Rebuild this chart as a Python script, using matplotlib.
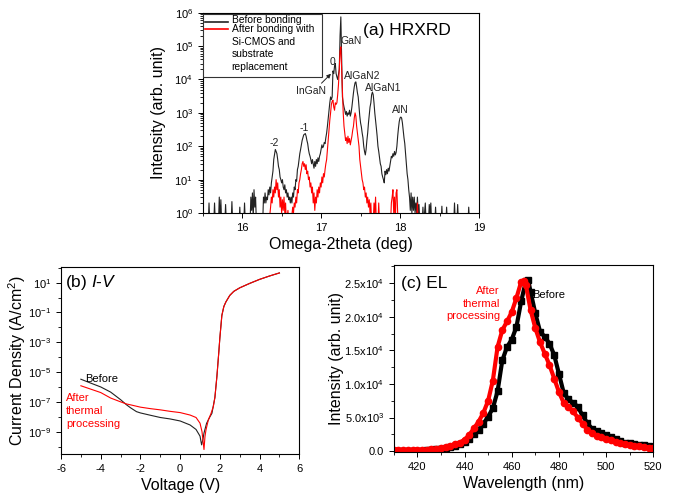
import numpy as np
import matplotlib.pyplot as plt
from matplotlib.patches import Rectangle
from matplotlib.ticker import MultipleLocator, FixedLocator, FixedFormatter, LogLocator, NullFormatter

plt.rcParams['font.family'] = 'Liberation Sans'
plt.rcParams['mathtext.fontset'] = 'custom'
plt.rcParams['mathtext.rm'] = 'Liberation Sans'
plt.rcParams['mathtext.it'] = 'Liberation Sans:italic'
plt.rcParams['axes.linewidth'] = 0.8
plt.rcParams['axes.unicode_minus'] = False

# (a) HRXRD omega-2theta scans
xrd_before_x = [15.57, 15.58, 15.59, 15.64, 15.65, 15.66, 15.70, 15.71, 15.72, 15.73, 15.74,
                15.78, 15.79, 15.80, 15.86, 15.87, 15.88, 15.96, 15.97, 15.98, 16.02, 16.03, 16.04,
                16.10, 16.11, 16.12, 16.13, 16.14, 16.15, 16.16, 16.17, 16.18,
                16.26, 16.27, 16.28, 16.29, 16.30, 16.31, 16.32, 16.33, 16.34, 16.35, 16.36, 16.37,
                16.38, 16.39, 16.40, 16.42, 16.43, 16.44, 16.45, 16.46, 16.47, 16.48, 16.49, 16.50,
                16.51, 16.52, 16.53, 16.54, 16.55, 16.56, 16.57, 16.58, 16.59, 16.60, 16.61, 16.62,
                16.63, 16.64, 16.65, 16.66, 16.67, 16.68, 16.69, 16.70, 16.71, 16.72, 16.73, 16.74,
                16.76, 16.78, 16.80, 16.81, 16.82, 16.83, 16.84, 16.85, 16.86, 16.87, 16.88, 16.89,
                16.90, 16.91, 16.92, 16.93, 16.94, 16.95, 16.96, 16.97, 16.98, 16.99, 17.00, 17.01,
                17.02, 17.03, 17.04, 17.05, 17.06, 17.07, 17.08, 17.09, 17.10, 17.11, 17.12, 17.13,
                17.14, 17.15, 17.16, 17.17, 17.18, 17.19, 17.20, 17.21, 17.22, 17.23, 17.24, 17.25,
                17.26, 17.27, 17.28, 17.29, 17.30, 17.31, 17.32, 17.33, 17.34, 17.35, 17.36, 17.37,
                17.38, 17.39, 17.40, 17.41, 17.42, 17.43, 17.44, 17.45, 17.46, 17.47, 17.48, 17.49,
                17.50, 17.51, 17.52, 17.53, 17.54, 17.55, 17.56, 17.57, 17.58, 17.59, 17.60, 17.61,
                17.62, 17.63, 17.64, 17.65, 17.66, 17.67, 17.68, 17.69, 17.70, 17.71, 17.72, 17.73,
                17.74, 17.75, 17.76, 17.77, 17.78, 17.79, 17.80, 17.81, 17.82, 17.83, 17.84, 17.85,
                17.86, 17.87, 17.88, 17.89, 17.90, 17.91, 17.92, 17.93, 17.94, 17.95, 17.96, 17.97,
                17.98, 17.99, 18.00, 18.01, 18.02, 18.03, 18.04, 18.05, 18.06, 18.07, 18.08, 18.09,
                18.10, 18.11, 18.12, 18.13, 18.14, 18.15, 18.16, 18.17, 18.18, 18.19, 18.20, 18.21,
                18.22, 18.23, 18.24, 18.25, 18.28, 18.29, 18.30, 18.32, 18.33, 18.36, 18.37, 18.38,
                18.39, 18.40, 18.44, 18.45, 18.46, 18.52, 18.53, 18.54, 18.58, 18.59, 18.60, 18.68,
                18.69, 18.70, 18.72, 18.73, 18.74, 18.86, 18.87, 18.88]
xrd_before_y = [0.5, 2, 0.5, 0.5, 2, 0.5, 0.5, 3, 0.5, 2.5, 0.5,
                0.5, 1.8, 0.5, 0.5, 2.2, 0.5, 0.5, 1.5, 0.5, 0.5, 2, 0.5,
                0.5, 3, 1.2, 4, 0.7, 5, 1.5, 3, 0.5,
                0.5, 3, 2, 4, 2, 3, 2.5, 5, 3.5, 6, 4, 8,
                12, 18, 40, 80, 70, 60, 40, 25, 20, 12, 10, 8,
                10, 6, 5, 7, 4, 5, 3, 4, 2.5, 3, 2, 3,
                2, 4, 3, 6, 5, 10, 9, 20, 25, 40, 60, 80,
                150, 220, 240, 200, 150, 120, 80, 60, 50, 40, 30, 40,
                30, 22, 35, 25, 40, 30, 45, 35, 50, 60, 80, 110,
                90, 100, 130, 120, 180, 250, 400, 700, 1200, 2000, 3000, 2500,
                3000, 18000, 15000, 25000, 30000, 15000, 12000, 10000, 14000, 20000, 2e5, 7.5e5,
                5e4, 3000, 2000, 1500, 1200, 900, 1100, 800, 1000, 900, 1200, 800,
                1000, 1500, 2500, 4000, 6000, 8000, 8500, 6000, 4000, 3000, 1500, 800,
                500, 380, 250, 180, 100, 70, 55, 80, 150, 250, 500, 900,
                1500, 2000, 3500, 4200, 3500, 2000, 1000, 600, 350, 200, 100, 70,
                45, 30, 25, 15, 12, 10, 8, 18, 14, 20, 15, 22,
                18, 25, 35, 50, 45, 60, 50, 70, 55, 65, 100, 200,
                350, 550, 700, 750, 700, 500, 300, 180, 120, 60, 30, 15,
                10, 5, 3, 1.2, 4, 1, 3, 1.2, 3, 1, 2, 1,
                3, 1, 1.8, 0.5, 0.5, 1.5, 0.5, 2, 0.5, 0.5, 1.8, 1,
                2, 0.5, 0.5, 1.5, 0.5, 0.5, 1.6, 0.5, 0.5, 1.5, 0.5, 0.5,
                2, 0.5, 0.5, 1.8, 0.5, 0.5, 1.5, 0.5]

xrd_after_x = [16.34, 16.36, 16.37, 16.38, 16.39, 16.40, 16.41, 16.42, 16.43, 16.44, 16.45, 16.46,
               16.47, 16.48, 16.49, 16.50, 16.51, 16.52, 16.53, 16.54, 16.55, 16.56, 16.58, 16.59,
               16.62, 16.64, 16.65, 16.66, 16.67, 16.68, 16.69, 16.70, 16.71, 16.72, 16.73, 16.74,
               16.75, 16.76, 16.77, 16.78, 16.79, 16.80, 16.81, 16.82, 16.83, 16.84, 16.85, 16.86,
               16.87, 16.88, 16.89, 16.90, 16.91, 16.92, 16.93, 16.94, 16.95, 16.96, 16.97, 16.98,
               16.99, 17.00, 17.01, 17.02, 17.03, 17.04, 17.05, 17.06, 17.07, 17.08, 17.09, 17.10,
               17.11, 17.12, 17.13, 17.14, 17.15, 17.16, 17.17, 17.18, 17.19, 17.20, 17.21, 17.22,
               17.23, 17.24, 17.25, 17.26, 17.27, 17.28, 17.29, 17.30, 17.31, 17.32, 17.33, 17.34,
               17.35, 17.36, 17.37, 17.38, 17.39, 17.40, 17.41, 17.42, 17.43, 17.44, 17.45, 17.46,
               17.47, 17.48, 17.49, 17.50, 17.51, 17.52, 17.53, 17.54, 17.55, 17.56, 17.57, 17.58,
               17.59, 17.60, 17.61, 17.62, 17.63, 17.64, 17.66, 17.67, 17.68, 17.69, 17.70, 17.72,
               17.73, 17.74, 17.88, 17.89, 17.90, 17.91, 17.92, 17.93, 17.94, 17.95, 17.96, 17.97,
               17.98, 18.21, 18.22, 18.23]
xrd_after_y = [0.5, 1.5, 3, 2, 5, 3, 6, 4, 10, 5, 8, 3,
               5, 1.5, 3, 1, 2.5, 1.2, 3, 1, 2, 0.5, 1.2, 0.5,
               0.5, 1.5, 1, 2, 1.5, 3, 2, 5, 4, 8, 10, 15,
               20, 30, 35, 25, 30, 20, 28, 15, 18, 10, 12, 6,
               8, 4, 6, 2, 4, 1.2, 3, 2, 5, 3, 6, 4,
               8, 6, 12, 8, 15, 12, 20, 30, 40, 80, 150, 300,
               600, 1000, 1800, 2200, 2400, 1500, 1200, 2000, 1800, 2000, 3500, 7000,
               2e4, 7e4, 9.5e4, 2e4, 5000, 1000, 400, 250, 150, 180, 120, 200,
               130, 170, 110, 150, 200, 300, 400, 700, 1000, 800, 400, 250,
               150, 100, 40, 25, 15, 10, 8, 5, 6, 3, 4, 2,
               3, 1.5, 2.5, 1, 2, 0.5, 0.5, 2, 1, 3, 0.5, 0.5,
               2, 0.5, 0.5, 2, 3, 5, 1, 3, 0.5, 4, 5, 1,
               0.5, 0.5, 2, 0.5]

# (b) I-V curves
iv_before_v = [-5, -4.5, -4, -3.5, -3, -2.7, -2.5, -2.2, -2, -1.5, -1, -0.5, 0, 0.5, 0.8, 1.0,
               1.08, 1.15, 1.2, 1.33, 1.5, 1.6, 1.75, 1.85, 1.95, 2.0, 2.1, 2.2, 2.3, 2.5, 2.7,
               3.0, 3.5, 4.0, 4.5, 5.0]
iv_before_j = [3.3e-6, 1.8e-6, 1.0e-6, 4.5e-7, 1.4e-7, 6.3e-8, 4.0e-8, 2.2e-8, 1.8e-8, 1.26e-8,
               8.9e-9, 7.1e-9, 5.2e-9, 2.8e-9, 1.4e-9, 5.0e-10, 1.3e-10, 3.2e-10, 8e-10, 3.6e-9,
               1.0e-8, 1.7e-8, 2.0e-7, 5.0e-6, 2.5e-4, 2.0e-3, 6.3e-2, 0.25, 0.5, 1.4, 2.6,
               4.5, 8.9, 16.6, 28, 45]
iv_after_v = [-5, -4.5, -4, -3.5, -3, -2.7, -2.5, -2, -1.5, -1, -0.5, 0, 0.5, 0.8, 1.0, 1.1,
              1.2, 1.25, 1.3, 1.42, 1.55, 1.67, 1.75, 1.85, 1.95, 2.0, 2.1, 2.2, 2.3, 2.5, 2.7,
              3.0, 3.5, 4.0, 4.5, 5.0]
iv_after_j = [1.2e-6, 7.1e-7, 4.2e-7, 1.8e-7, 1.0e-7, 7.2e-8, 6.3e-8, 4.4e-8, 3.5e-8, 2.9e-8,
              2.3e-8, 1.9e-8, 1.3e-8, 8.9e-9, 3.7e-9, 1.0e-9, 6.3e-11, 4.7e-10, 1.3e-9, 6.2e-9,
              1.6e-8, 4.8e-8, 2.0e-7, 5.0e-6, 2.5e-4, 2.0e-3, 6.3e-2, 0.25, 0.5, 1.4, 2.6,
              4.5, 8.9, 16.6, 28, 45]

# (c) EL spectra
el_before_wl = [410, 412, 414, 416, 418, 420, 422, 424, 426, 428, 430, 432, 434, 436, 438, 440,
                442, 444, 446, 448, 450, 452, 454, 456, 458, 460, 462, 464, 466, 467, 468, 470,
                472, 474, 476, 478, 480, 482, 484, 486, 488, 490, 492, 494, 496, 498, 500, 502,
                504, 506, 508, 510, 512, 514, 516, 518, 520]
el_before_i = [0, 0, 0, 20, 40, 60, 80, 100, 180, 280, 350, 430, 600, 800, 1050, 1300,
               1800, 2500, 3200, 4100, 5100, 6400, 8900, 13500, 15500, 16600, 18500, 22300, 25300, 25400, 23700, 20500,
               17800, 17000, 16000, 14300, 11500, 8700, 7700, 7200, 6600, 5300, 4200, 3300, 2950, 2700, 2450, 2150,
               1800, 1500, 1250, 1150, 1050, 950, 850, 700, 600]
el_after_wl = [410, 412, 414, 416, 418, 420, 422, 424, 426, 428, 430, 432, 434, 436, 438, 440,
               442, 444, 446, 448, 450, 452, 454, 456, 458, 460, 462, 464, 465, 466, 468, 470,
               472, 474, 476, 478, 480, 482, 484, 486, 488, 490, 492, 494, 496, 498, 500, 502,
               504, 506, 508, 510, 512, 514, 516, 518, 520]
el_after_i = [100, 100, 100, 110, 130, 150, 180, 200, 250, 320, 420, 580, 800, 1000, 1250, 1700,
              2400, 3400, 4400, 5700, 7500, 10500, 15500, 18000, 19300, 20700, 22800, 25200, 25300, 24700, 21000, 18300,
              16200, 14500, 12800, 10800, 8800, 7200, 6600, 5900, 5000, 4100, 3200, 2700, 2300, 2050, 1850, 1600,
              1400, 1200, 1000, 900, 800, 700, 650, 500, 400]

xrd_labels = ['Before bonding', 'After bonding with', 'Si-CMOS and', 'substrate', 'replacement']

fig = plt.figure(figsize=(6.75, 4.99), dpi=100)
ax_a = fig.add_axes([0.3003, 0.5731, 0.4093, 0.4014])
ax_b = fig.add_axes([0.0904, 0.0902, 0.3530, 0.3741])
ax_c = fig.add_axes([0.5833, 0.0940, 0.3846, 0.3749])

for ax in (ax_a, ax_b, ax_c):
    ax.tick_params(direction='out', labelsize=8, length=3.5, width=0.7, top=False, right=False)
    ax.tick_params(which='minor', direction='out', length=2, width=0.6)

# ---- (a)
ax_a.plot(xrd_before_x, xrd_before_y, color='#222222', lw=0.8)
ax_a.plot(xrd_after_x, xrd_after_y, color='red', lw=0.8)
ax_a.set_yscale('log')
ax_a.set_xlim(15.5, 19)
ax_a.set_ylim(1, 1e6)
ax_a.xaxis.set_major_locator(MultipleLocator(1))
ax_a.xaxis.set_minor_locator(MultipleLocator(0.5))
ax_a.yaxis.set_major_locator(LogLocator(base=10, numticks=10))
ax_a.yaxis.set_minor_locator(LogLocator(base=10, subs=np.arange(2, 10), numticks=10))
ax_a.yaxis.set_minor_formatter(NullFormatter())
ax_a.set_xlabel('Omega-2theta (deg)', fontsize=11.5, labelpad=3)
ax_a.set_ylabel('Intensity (arb. unit)', fontsize=11.5, labelpad=6)

# Origin-style legend box: handles sit on the first line of each entry
ax_a.add_patch(Rectangle((0.002, 0.6775), 0.428, 0.318, transform=ax_a.transAxes,
                         facecolor='white', edgecolor='#333333', lw=0.8, zorder=5))
ax_a.plot([0.008, 0.093], [0.955, 0.955], color='#222222', lw=1.2, transform=ax_a.transAxes, zorder=6)
ax_a.plot([0.008, 0.093], [0.9186, 0.9186], color='red', lw=1.2, transform=ax_a.transAxes, zorder=6)
for txt, yy in zip(xrd_labels, [0.966, 0.9186, 0.855, 0.793, 0.731]):
    ax_a.text(0.105, yy, txt, fontsize=7.4, va='center', ha='left', transform=ax_a.transAxes, zorder=6)

ax_a.text(17.53, 10**5.46, '(a) HRXRD', fontsize=12.5, va='center', ha='left')
lab = dict(fontsize=7.5, color='#222222', ha='center', va='center')
ax_a.text(16.40, 10**2.1, '-2', **lab)
ax_a.text(16.78, 10**2.54, '-1', **lab)
ax_a.text(17.15, 10**4.51, '0', **lab)
ax_a.text(16.87, 10**3.66, 'InGaN', **lab)
ax_a.text(17.38, 10**5.16, 'GaN', **lab)
ax_a.text(17.52, 10**4.1, 'AlGaN2', **lab)
ax_a.text(17.79, 10**3.76, 'AlGaN1', **lab)
ax_a.text(18.0, 10**3.1, 'AlN', **lab)
ax_a.annotate('', xy=(17.15, 10**4.23), xytext=(16.98, 10**3.83),
              arrowprops=dict(arrowstyle='-|>', color='#222222', lw=0.7, mutation_scale=6))

# ---- (b)
ax_b.plot(iv_before_v, iv_before_j, color='#222222', lw=0.8)
ax_b.plot(iv_after_v, iv_after_j, color='red', lw=0.8)
ax_b.set_yscale('log')
ax_b.set_xlim(-6, 6)
ax_b.set_ylim(10**-10.5, 10**2.03)
ax_b.xaxis.set_major_locator(MultipleLocator(2))
ax_b.xaxis.set_minor_locator(MultipleLocator(1))
ax_b.yaxis.set_major_locator(FixedLocator([10.0**k for k in range(-9, 2, 2)]))
ax_b.yaxis.set_minor_locator(FixedLocator([10.0**k for k in range(-10, 3, 2)]))
ax_b.yaxis.set_minor_formatter(NullFormatter())
ax_b.set_xlabel('Voltage (V)', fontsize=11.5, labelpad=3)
ax_b.set_ylabel('Current Density (A/cm$^2$)', fontsize=11.5, labelpad=0.5)
ax_b.text(-5.8, 10**1.0, '(b) $\\it{I}$-$\\it{V}$', fontsize=12.5, va='center', ha='left')
ax_b.text(-4.8, 10**-5.8, 'Before', fontsize=8, color='black', va='bottom', ha='left')
ax_b.text(-5.75, 10**-6.4, 'After\nthermal\nprocessing', fontsize=8, color='red',
          va='top', ha='left', linespacing=1.35)

# ---- (c)
ax_c.plot(el_before_wl, el_before_i, color='black', lw=3.0, marker='s', ms=4)
ax_c.plot(el_after_wl, el_after_i, color='red', lw=3.0, marker='o', ms=4.5)
ax_c.set_xlim(410, 520)
ax_c.set_ylim(-150, 27700)
ax_c.xaxis.set_major_locator(MultipleLocator(20))
ax_c.xaxis.set_minor_locator(MultipleLocator(10))
c_ticks = [0, 5000, 10000, 15000, 20000, 25000]
c_ticklabels = ['0.0', '5.0x10$^3$', '1.0x10$^4$', '1.5x10$^4$', '2.0x10$^4$', '2.5x10$^4$']
ax_c.yaxis.set_major_locator(FixedLocator(c_ticks))
ax_c.yaxis.set_major_formatter(FixedFormatter(c_ticklabels))
ax_c.yaxis.set_minor_locator(MultipleLocator(2500))
ax_c.set_xlabel('Wavelength (nm)', fontsize=11.5, labelpad=3)
ax_c.set_ylabel('Intensity (arb. unit)', fontsize=11.5, labelpad=0.5)
ax_c.text(413, 25000, '(c) EL', fontsize=12.5, va='center', ha='left')
ax_c.text(468.5, 23200, 'Before', fontsize=8, color='black', va='center', ha='left')
ax_c.text(455, 24600, 'After\nthermal\nprocessing', fontsize=8, color='red',
          va='top', ha='right', linespacing=1.35)

fig.savefig('out.png', dpi=100)
